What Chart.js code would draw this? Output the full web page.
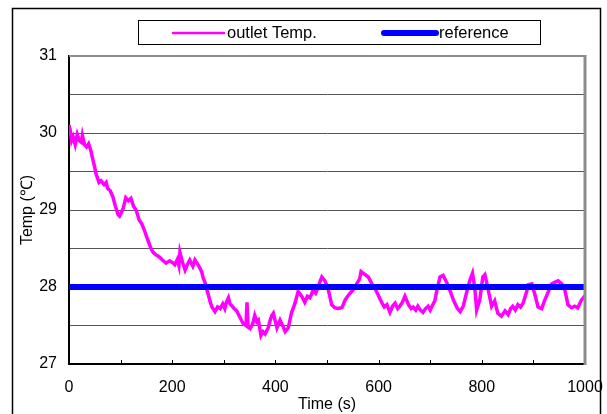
<!DOCTYPE html>
<html>
<head>
<meta charset="utf-8">
<script src="https://cdn.jsdelivr.net/npm/chart.js@4/dist/chart.umd.min.js"></script>
<style>
  html, body { margin: 0; padding: 0; background: #fff; }
  #wrap { width: 607px; height: 414px; }
</style>
</head>
<body>
<div id="wrap"><canvas id="tempChart" width="607" height="414"></canvas></div>
<script>
// time axis (s) and outlet temperature (°C)
const timeS = [0, 2, 5, 8, 12, 16, 20, 24, 26, 30, 34, 38, 42, 46, 50, 52, 55, 58, 62, 68,
  72, 75, 80, 85, 90, 95, 98, 101, 105, 110, 115, 120, 125, 130, 136, 141, 146, 150, 155, 159,
  163, 168, 175, 181, 188, 195, 202, 205, 210, 213, 215, 220, 225, 230, 234, 240, 244, 250, 254, 257,
  260, 264, 267, 270, 274, 277, 283, 288, 293, 298, 302, 305, 309, 312, 315, 320, 325, 331, 337, 343,
  345, 347, 351, 356, 360, 364, 367, 372, 376, 380, 386, 390, 393, 396, 400, 403, 406, 409, 414, 419,
  425, 431, 438, 444, 451, 457, 462, 467, 473, 478, 483, 487, 490, 496, 502, 509, 515, 521, 529, 535,
  540, 545, 550, 554, 560, 563, 566, 570, 574, 580, 587, 593, 599, 606, 611, 616, 622, 627, 632, 637,
  641, 646, 651, 658, 663, 667, 672, 676, 681, 686, 691, 696, 700, 705, 709, 713, 719, 725, 732, 738,
  745, 752, 758, 764, 771, 777, 782, 785, 787, 790, 796, 802, 806, 812, 819, 825, 831, 838, 845, 851,
  856, 860, 865, 870, 875, 880, 887, 890, 897, 903, 909, 916, 922, 929, 935, 941, 948, 955, 961, 967,
  974, 980, 986, 993, 998, 1000];
const outletTemp = [30.1, 30.05, 29.9, 29.95, 29.85, 29.98, 29.9, 29.88, 29.97, 29.85, 29.82, 29.86, 29.78, 29.66, 29.55, 29.48, 29.42, 29.36, 29.38, 29.33,
  29.36, 29.28, 29.25, 29.17, 29.05, 28.94, 28.92, 28.96, 29.02, 29.16, 29.12, 29.15, 29.05, 29.0, 28.87, 28.82, 28.74, 28.66, 28.57, 28.5,
  28.45, 28.42, 28.39, 28.35, 28.31, 28.34, 28.31, 28.29, 28.36, 28.28, 28.45, 28.32, 28.22, 28.3, 28.35, 28.27, 28.35, 28.29, 28.24, 28.2,
  28.12, 28.05, 27.97, 27.9, 27.8, 27.74, 27.68, 27.74, 27.72, 27.78, 27.72, 27.8, 27.86, 27.78, 27.76, 27.72, 27.69, 27.61, 27.53, 27.5,
  27.8, 27.48, 27.46, 27.52, 27.63, 27.55, 27.57, 27.37, 27.42, 27.39, 27.47, 27.57, 27.63, 27.66, 27.55, 27.47, 27.52, 27.57, 27.5, 27.42,
  27.47, 27.66, 27.79, 27.94, 27.88, 27.8, 27.88, 27.86, 27.96, 27.92, 28.0, 28.08, 28.13, 28.08, 27.98, 27.77, 27.73, 27.72, 27.73, 27.83,
  27.88, 27.92, 27.96, 28.0, 28.07, 28.1, 28.2, 28.18, 28.16, 28.13, 28.04, 27.98, 27.9, 27.8, 27.74, 27.77, 27.67, 27.75, 27.79, 27.72,
  27.75, 27.8, 27.88, 27.77, 27.72, 27.74, 27.7, 27.75, 27.7, 27.67, 27.72, 27.75, 27.7, 27.77, 27.82, 27.96, 28.13, 28.15, 28.06, 27.96,
  27.83, 27.73, 27.68, 27.75, 27.94, 28.09, 28.18, 28.05, 27.94, 27.7, 27.83, 28.13, 28.16, 27.98, 27.75, 27.82, 27.66, 27.62, 27.69, 27.64,
  27.72, 27.75, 27.7, 27.77, 27.74, 27.79, 27.94, 28.03, 28.04, 27.9, 27.74, 27.72, 27.83, 27.94, 28.04, 28.06, 28.08, 28.04, 27.96, 27.77,
  27.73, 27.75, 27.73, 27.83, 27.87, 27.85];
const refTemp = 28;
const timeRange = [0, 1000];
const tempRange = [27, 31];

const outletPoints = timeS.map((t, i) => ({ x: t, y: outletTemp[i] }));
const refPoints = timeRange.map(t => ({ x: t, y: refTemp }));

const FONT = 'Liberation Sans, Arial, sans-serif';

// outer frame, plot frame (gray top/right), inside x ticks, boxed legend
const decor = {
  id: 'decor',
  beforeDraw(chart) {
    const c = chart.ctx;
    c.save();
    c.fillStyle = '#fff';
    c.fillRect(0, 0, chart.width, chart.height);
    c.strokeStyle = '#000';
    c.lineWidth = 1.5;
    c.strokeRect(12.5, 8.5, 588, 430);
    c.restore();
  },
  afterDraw(chart) {
    const c = chart.ctx;
    const a = chart.chartArea;
    const xs = chart.scales.x;
    c.save();
    // gray top and right edges
    c.strokeStyle = '#8c8c8c';
    c.lineWidth = 2;
    c.beginPath();
    c.moveTo(a.left, a.top);
    c.lineTo(a.right, a.top);
    c.stroke();
    c.lineWidth = 3;
    c.beginPath();
    c.moveTo(a.right, a.top - 1);
    c.lineTo(a.right, a.bottom + 1);
    c.stroke();
    // inside tick marks on the time axis
    c.strokeStyle = '#000';
    c.lineWidth = 1;
    for (let t = timeRange[0] + 100; t < timeRange[1]; t += 100) {
      const px = Math.round(xs.getPixelForValue(t)) + 0.5;
      c.beginPath();
      c.moveTo(px, a.bottom);
      c.lineTo(px, a.bottom - 4);
      c.stroke();
    }
    // legend box
    c.lineWidth = 1;
    c.strokeRect(138.5, 20.5, 402, 24);
    const items = [
      { ds: chart.data.datasets[0], x0: 173, x1: 224, w: 2.5 },
      { ds: chart.data.datasets[1], x0: 384, x1: 436, w: 6 }
    ];
    c.font = '16.5px ' + FONT;
    c.textBaseline = 'middle';
    items.forEach(it => {
      c.strokeStyle = it.ds.borderColor;
      c.lineWidth = it.w;
      c.lineCap = 'round';
      c.beginPath();
      c.moveTo(it.x0, 33);
      c.lineTo(it.x1, 33);
      c.stroke();
      c.fillStyle = '#000';
      c.fillText(it.ds.label, it.x1 + 3, 33);
    });
    c.restore();
  }
};

new Chart(document.getElementById('tempChart'), {
  type: 'line',
  data: {
    datasets: [
      {
        label: 'outlet Temp.',
        data: outletPoints,
        borderColor: '#ff00ff',
        borderWidth: 3.5,
        pointRadius: 0,
        tension: 0,
        order: 2
      },
      {
        label: 'reference',
        data: refPoints,
        borderColor: '#0000ff',
        borderWidth: 6,
        pointRadius: 0,
        order: 1
      }
    ]
  },
  options: {
    responsive: false,
    animation: false,
    layout: { padding: { left: 0, top: 56, right: 22, bottom: 0 } },
    plugins: {
      legend: { display: false },
      tooltip: { enabled: false }
    },
    scales: {
      x: {
        type: 'linear',
        min: timeRange[0],
        max: timeRange[1],
        afterFit: s => { s.height = 50; s.paddingLeft = 0; s.paddingRight = 0; },
        ticks: {
          stepSize: 100,
          color: '#000',
          font: { family: FONT, size: 16 },
          padding: 14,
          maxRotation: 0,
          callback: v => (v % 200 === 0 ? v : '')
        },
        grid: { drawOnChartArea: false, drawTicks: false },
        border: { color: '#000', width: 2 },
        title: {
          display: true,
          text: 'Time (s)',
          color: '#000',
          font: { family: FONT, size: 16 },
          padding: 0
        }
      },
      y: {
        min: tempRange[0],
        max: tempRange[1],
        afterFit: s => { s.width = 69; },
        ticks: {
          stepSize: 0.5,
          color: '#000',
          font: { family: FONT, size: 16 },
          padding: 12,
          callback: v => (Number.isInteger(v) ? v : '')
        },
        grid: { color: '#555', lineWidth: 1, drawTicks: false },
        border: { color: '#000', width: 2 },
        title: {
          display: true,
          text: 'Temp (℃)',
          color: '#000',
          font: { family: FONT, size: 16 },
          padding: { top: 18 }
        }
      }
    }
  },
  plugins: [decor]
});
</script>
</body>
</html>
